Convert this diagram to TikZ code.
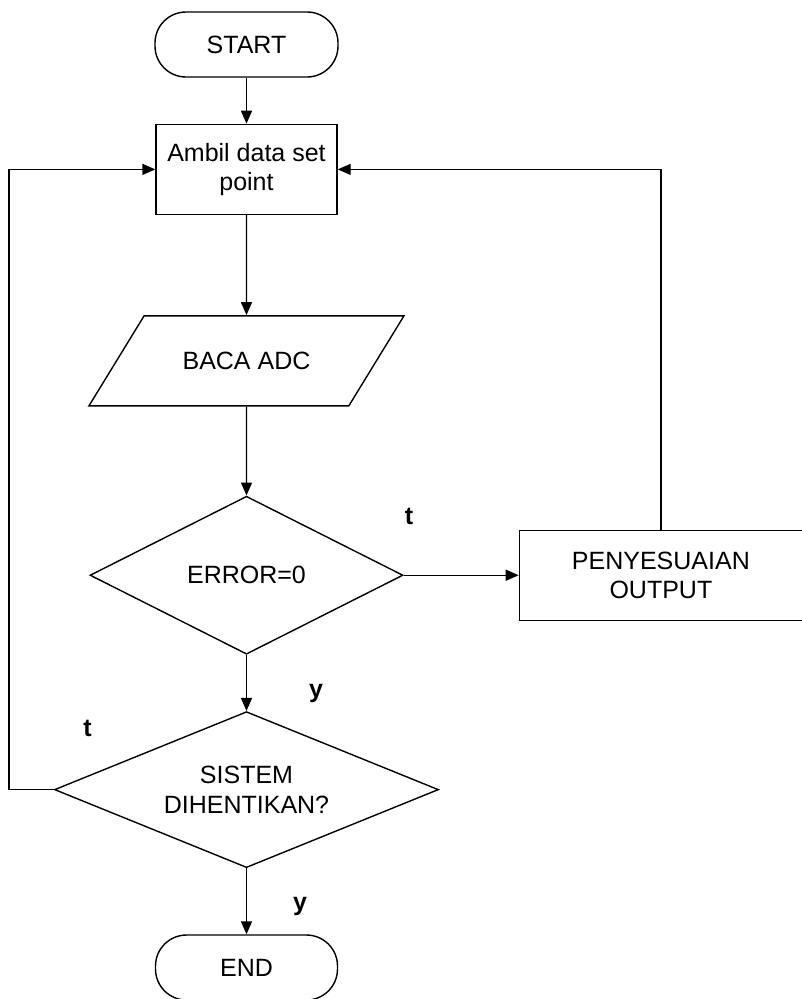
\documentclass[tikz,border=0pt]{standalone}
\usepackage{fontspec}
\setmainfont{Liberation Sans}
\usetikzlibrary{shapes}
\usetikzlibrary{positioning}
\usetikzlibrary{arrows.meta}
\tikzset{
    termnode/.style = {rectangle, rounded corners=31pt, line width=1.4pt, draw=black, align=center, minimum width=183pt, minimum height=65pt},
    procnode/.style = {rectangle, line width=1.4pt, draw=black, align=center, minimum height=90pt},
    ionode/.style = {trapezium, trapezium left angle=58.5, trapezium right angle=121.5, trapezium stretches body=true, line width=1.4pt, draw=black, align=center, text height=18pt, text depth=0pt, inner ysep=36pt, minimum width=315pt},
    decnode/.style = {diamond, line width=1.4pt, draw=black, align=center, inner sep=0pt},
    edgen/.style = {-, line width=1.4pt, black},
    edgea/.style = {-{Triangle[length=13pt,width=11pt]}, line width=1.4pt, black},
    lbl/.style = {font=\fontsize{25}{29.5}\selectfont\bfseries}
}

\begin{document}
\begin{tikzpicture}[x=1pt, y=-1pt,
  font=\fontsize{25}{29.5}\selectfont]
  \useasboundingbox (0,0) rectangle (802,999);

  % main column
  \node[termnode] (start) at (246.5,44.5) {START};
  \node[procnode, minimum width=181pt, below=46pt of start] (ambil) {Ambil data set\\point};
  \node[ionode, below=100pt of ambil] (baca) {BACA ADC};
  \node[decnode, aspect=2, minimum width=313pt, minimum height=158pt, below=89pt of baca] (cek) {ERROR=0};
  \node[decnode, aspect=2.5, minimum width=384pt, minimum height=156pt, below=56pt of cek] (stop) {SISTEM\\DIHENTIKAN?};
  \node[termnode, minimum width=182pt, below=66pt of stop] (end) {END};

  % side branch
  \node[procnode, minimum width=283pt, right=115pt of cek] (atur) {PENYESUAIAN\\OUTPUT};

  % branch labels
  \node[lbl] (tcek) at (409,516) {t};
  \node[lbl] (ycek) at (316,693) {y};
  \node[lbl] (tstop) at (87.5,728) {t};
  \node[lbl] (ystop) at (300,906) {y};

  \draw[edgea] (start) -- (ambil);
  \draw[edgea] (ambil) -- (baca);
  \draw[edgea] (baca) -- (cek);
  \draw[edgea] (cek) -- (stop);
  \draw[edgea] (stop) -- (end);
  \draw[edgea] (cek.east) -- (atur.west);
  \draw[edgea] (atur.north) |- (ambil.east);
  \draw[edgea] (stop.west) -- ++(-45,0) |- (ambil.west);
\end{tikzpicture}
\end{document}
